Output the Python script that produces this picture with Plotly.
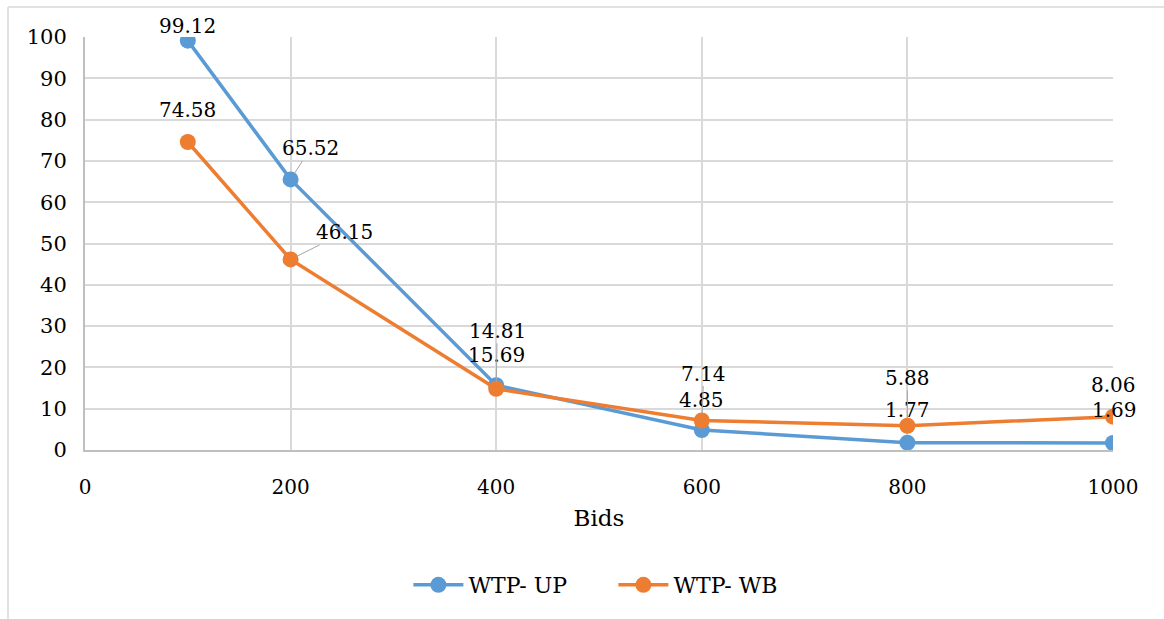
import plotly.graph_objects as go

bids = [100, 200, 400, 600, 800, 1000]
wtp_up = [99.12, 65.52, 15.69, 4.85, 1.77, 1.69]
wtp_wb = [74.58, 46.15, 14.81, 7.14, 5.88, 8.06]
x_ticks = [0, 200, 400, 600, 800, 1000]
y_ticks = list(range(0, 101, 10))

BLUE = "#5B9BD5"
ORANGE = "#ED7D31"
FONT = "DejaVu Serif"

fig = go.Figure()
fig.add_trace(go.Scatter(x=bids, y=wtp_up, mode="lines+markers", name="WTP- UP",
                         line=dict(color=BLUE, width=3.5), marker=dict(size=16, color=BLUE)))
fig.add_trace(go.Scatter(x=bids, y=wtp_wb, mode="lines+markers", name="WTP- WB",
                         line=dict(color=ORANGE, width=3.5), marker=dict(size=16, color=ORANGE)))

# label offsets (pixels) and whether a leader line is drawn
up_off = [(0, -15, False), (20, -31, True), (0, -30, False), (0, -30, False), (0, -33, False), (1, -33, False)]
wb_off = [(0, -32, False), (54, -27, True), (1, -58, True), (2, -47, True), (0, -48, True), (0, -32, False)]

for xs, ys, offs in [(bids, wtp_up, up_off), (bids, wtp_wb, wb_off)]:
    for xv, yv, (ax, ay, lead) in zip(xs, ys, offs):
        fig.add_annotation(x=xv, y=yv, text=f"{yv:.2f}", showarrow=True,
                           ax=ax, ay=ay, arrowhead=0, arrowwidth=1,
                           arrowcolor="#A6A6A6" if lead else "rgba(0,0,0,0)",
                           standoff=7, font=dict(family=FONT, size=20, color="black"),
                           borderpad=0)

# chart frame (top and left edges)
fig.add_shape(type="line", xref="paper", yref="paper",
              x0=(8 - 85) / 1028, x1=(1164 - 85) / 1028, y0=(450 - 7) / 413, y1=(450 - 7) / 413,
              line=dict(color="#D9D9D9", width=1.5))
fig.add_shape(type="line", xref="paper", yref="paper",
              x0=(8 - 85) / 1028, x1=(8 - 85) / 1028, y0=(450 - 7) / 413, y1=(450 - 619) / 413,
              line=dict(color="#D9D9D9", width=1.5))

fig.update_layout(
    width=1164, height=619,
    margin=dict(l=85, r=51, t=37, b=169),
    paper_bgcolor="white", plot_bgcolor="white",
    font=dict(family=FONT, size=20, color="black"),
    showlegend=True,
    legend=dict(orientation="h", x=0.514, xanchor="center", y=-0.327, yanchor="middle",
                font=dict(family=FONT, size=22), itemwidth=50, entrywidth=140,
                tracegroupgap=0),
    xaxis=dict(range=[0, 1000], tickvals=x_ticks, showgrid=True, gridcolor="#D9D9D9", gridwidth=1.5,
               zeroline=False, showline=True, linecolor="#BFBFBF", linewidth=2,
               ticklabelstandoff=18,
               title=dict(text="Bids", font=dict(family=FONT, size=23), standoff=12)),
    yaxis=dict(range=[0, 100], tickvals=y_ticks, showgrid=True, gridcolor="#D9D9D9", gridwidth=1.5,
               zeroline=False, showline=True, linecolor="#BFBFBF", linewidth=2,
               ticklabelstandoff=12, tickfont=dict(size=21)),
)

fig.write_html("out.html")
